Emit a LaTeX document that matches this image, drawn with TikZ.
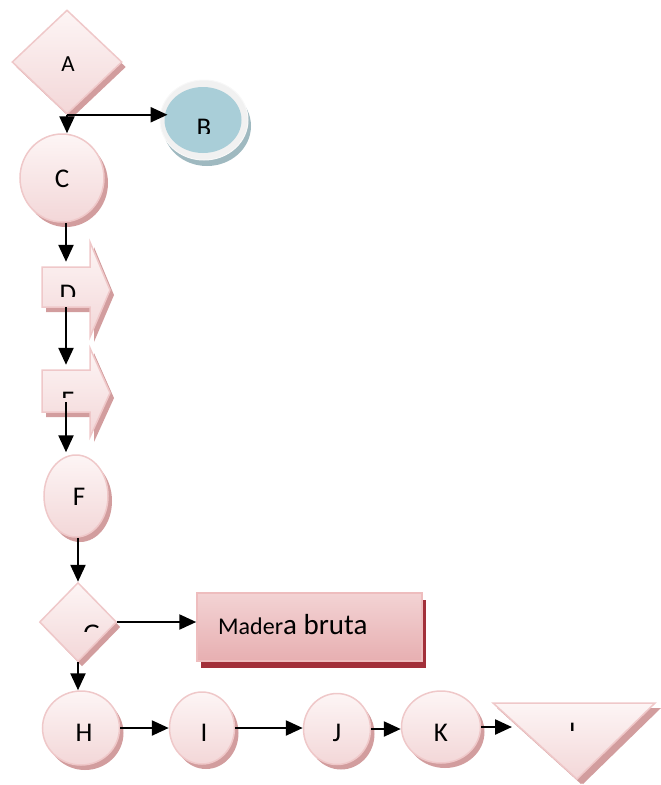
\documentclass[tikz,border=0pt]{standalone}
\usepackage{fontspec}
\setmainfont{Carlito}
\usetikzlibrary{shapes.geometric,arrows.meta,shadows}
\definecolor{pktop}{HTML}{FDF5F5}
\definecolor{pkbot}{HTML}{F3D7D8}
\definecolor{pkedge}{HTML}{EFC8C9}
\definecolor{pkshadow}{HTML}{D29D9E}
\definecolor{mtop}{HTML}{F3D3D4}
\definecolor{mbot}{HTML}{E7AFB1}
\definecolor{medge}{HTML}{EEBDBE}
\definecolor{mshadow}{HTML}{A2303A}
\definecolor{bring}{HTML}{F1F1F1}
\definecolor{bedge}{HTML}{F8F8F8}
\definecolor{bblue}{HTML}{A9CED8}
\definecolor{bshadow}{HTML}{9FB9C0}
\tikzset{
  pk/.style={top color=pktop, bottom color=pkbot, draw=pkedge, line width=1.5pt,
    drop shadow={shadow xshift=4pt, shadow yshift=-5pt, fill=pkshadow, opacity=1}},
  pkell/.style={pk, ellipse, inner sep=0pt},
  pkdiam/.style={pk, diamond, inner sep=0pt},
  conn/.style={draw=black, line width=2.4pt, -{Triangle[length=17pt,width=15pt]}},
  lbl/.style={inner sep=0pt, font=\fontsize{27}{31}\selectfont},
  hidden/.style={inner sep=0pt, draw=none, fill=none},
}
\begin{document}
\begin{tikzpicture}[x=1pt,y=-1pt]
\useasboundingbox (0,0) rectangle (661,785);

% A
\node[pkdiam, minimum width=110pt, minimum height=104pt] (A) at (67,62) {};
\node[lbl, font=\fontsize{23}{27}\selectfont] (At) at (68,64) {A};

% B
\node[ellipse, fill=bring, draw=bedge, line width=1pt, minimum width=88pt, minimum height=80pt,
  drop shadow={shadow xshift=3pt, shadow yshift=-6pt, fill=bshadow, opacity=1}] (B) at (204,120) {};
\node[ellipse, fill=bblue, minimum width=77pt, minimum height=66pt, inner sep=0pt] (Bin) at (203,120) {};
\begin{scope}
  \clip (150,100) rectangle (260,133);
  \node[lbl] (Bt) at (204,128) {B};
\end{scope}

% C
\node[pkell, minimum width=84pt, minimum height=88pt] (C) at (62,178) {};
\node[lbl] (Ct) at (62,179) {C};

% D arrow shape
\path[pk] (42,267) -- (90,267) -- (90,242) -- (110,290) -- (90,337) -- (90,307) -- (42,307) -- cycle;
\node[hidden, minimum width=48pt, minimum height=40pt] (D) at (66,287) {};
\begin{scope}
  \clip (40,260) rectangle (110,296);
  \node[lbl] (Dt) at (68,294) {D};
\end{scope}

% E arrow shape
\path[pk] (42,370) -- (90,370) -- (90,348) -- (110,393) -- (90,437) -- (90,412) -- (42,412) -- cycle;
\node[hidden, minimum width=48pt, minimum height=42pt] (E) at (66,391) {};
\begin{scope}
  \clip (40,360) rectangle (110,397);
  \node[lbl] (Et) at (68,401) {E};
\end{scope}

% F
\node[pkell, minimum width=64pt, minimum height=82pt] (F) at (76,496) {};
\node[lbl] (Ft) at (79,497) {F};

% G
\node[pkdiam, minimum width=77pt, minimum height=79pt] (G) at (78,622) {};
\begin{scope}
  \clip (60,600) rectangle (120,631);
  \node[lbl] (Gt) at (92,634) {G};
\end{scope}

% Madera bruta
\node[rectangle, top color=mtop, bottom color=mbot, draw=medge, line width=1.5pt,
  minimum width=225pt, minimum height=68pt, inner sep=0pt,
  drop shadow={shadow xshift=4pt, shadow yshift=-7pt, fill=mshadow, opacity=1}] (M) at (309.5,627) {};
\node[inner sep=0pt, anchor=base west] (Mt) at (218,634)
  {\fontsize{24}{28}\selectfont Mader\fontsize{29}{33}\selectfont a bruta};

% bottom row
\node[pkell, minimum width=77pt, minimum height=74pt] (H) at (81,728) {};
\node[lbl] (Ht) at (84,733) {H};
\node[pkell, minimum width=65pt, minimum height=72pt] (I) at (202,728) {};
\node[lbl] (It) at (204,733) {I};
\node[pkell, minimum width=67pt, minimum height=71pt] (J) at (337,729) {};
\node[lbl] (Jt) at (337,733) {J};
\node[pkell, minimum width=79pt, minimum height=72pt] (K) at (441,727) {};
\node[lbl] (Kt) at (441,733) {K};

% L triangle
\path[pk, drop shadow={shadow xshift=6pt, shadow yshift=-5pt, fill=pkshadow, opacity=1}]
  (493,703) -- (655,703) -- (577,779) -- cycle;
\node[hidden, minimum width=162pt, minimum height=20pt] (L) at (574,713) {};
\coordinate (Lw) at (512,729);
\begin{scope}
  \clip (540,700) rectangle (610,730);
  \node[lbl] (Lt) at (575,732) {L};
\end{scope}

% connectors
\draw[conn] (A.south) -- (A.south |- C.north);
\draw[conn] (A.south) -- ([xshift=8pt]A.south -| B.west);
\draw[conn] (C.south -| D.north) -- ([yshift=5pt]D.north);
\draw[conn] (D.south) -- ([yshift=5pt]E.north);
\draw[conn] ([yshift=-11pt]E.center) -- ([yshift=2pt]E.center |- F.north);
\draw[conn] (G.north |- F.south) -- (G.north);
\draw[conn] (G.east) -- (G.east -| M.west);
\draw[conn] (G.south) -- (G.south |- H.north);
\draw[conn] (H.east) -- (H.east -| I.west);
\draw[conn] (I.east) -- (I.east -| J.west);
\draw[conn] (J.east) -- (J.east -| K.west);
\draw[conn] (K.east) -- (K.east -| Lw);
\end{tikzpicture}
\end{document}
